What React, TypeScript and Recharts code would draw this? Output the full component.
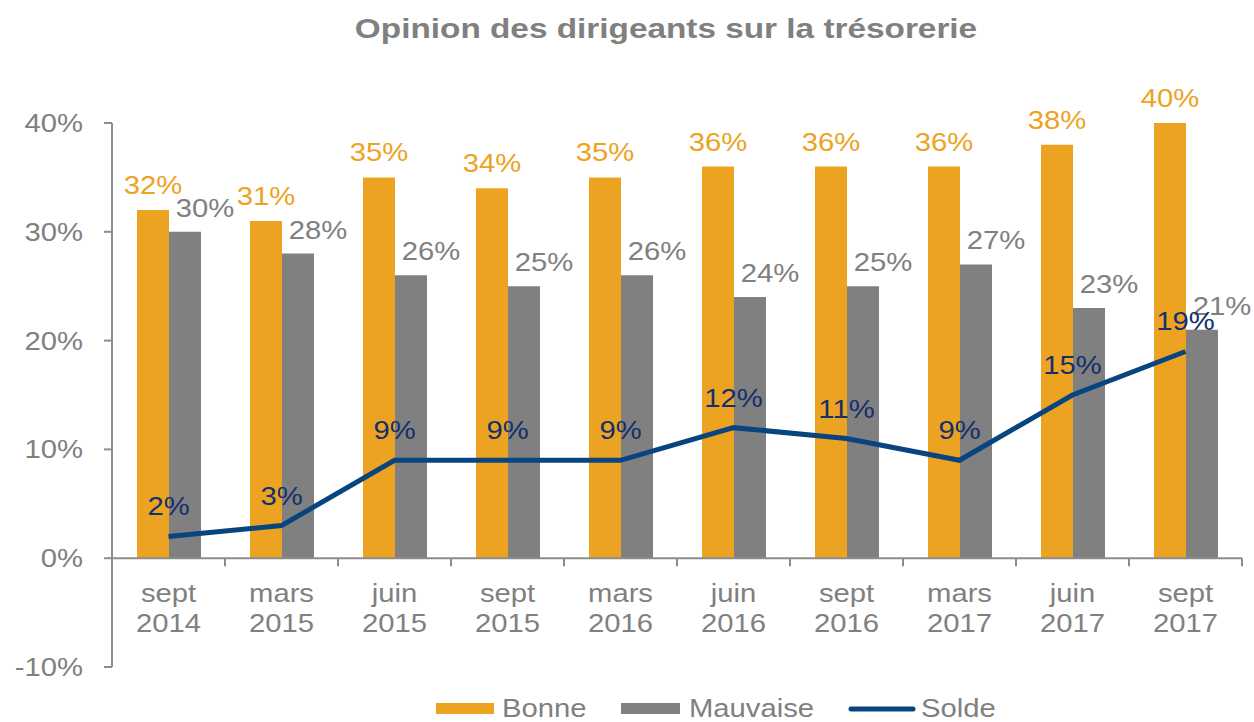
import React from 'react';
import {
  ComposedChart,
  Bar,
  Line,
  XAxis,
  YAxis,
  ReferenceLine,
  LabelList,
} from 'recharts';

const categories = [
  'sept 2014', 'mars 2015', 'juin 2015', 'sept 2015', 'mars 2016',
  'juin 2016', 'sept 2016', 'mars 2017', 'juin 2017', 'sept 2017',
];
const bonne = [32, 31, 35, 34, 35, 36, 36, 36, 38, 40];
const mauvaise = [30, 28, 26, 25, 26, 24, 25, 27, 23, 21];
const solde = [2, 3, 9, 9, 9, 12, 11, 9, 15, 19];
const yTicks = [-10, 0, 10, 20, 30, 40];

const W = 1254;
const H = 722;
const TOP = 123;
const BOTTOM = 55;
const LEFT = 112;
const RIGHT = 12;
const X_AXIS_H = 30;
const PLOT_H = H - TOP - BOTTOM;
const ZERO_Y = TOP + (PLOT_H * 40) / 50;
const BAND = (W - LEFT - RIGHT) / categories.length;

const ORANGE = '#EDA322';
const GREY = '#808080';
const AXIS = '#8C8C8C';
const NAVY_LINE = '#08457E';
const NAVY_TEXT = '#13306B';
const FONT = '"Liberation Sans", Arial, sans-serif';
const STRETCH = 1.17;

const data = categories.map((cat, i) => ({
  cat,
  bonne: bonne[i],
  mauvaise: mauvaise[i],
  solde: solde[i],
}));

// text in the source is drawn a bit wider than normal Arial
const WideText = ({ x, y, anchor = 'middle', fill = GREY, size = 25, weight = 'normal', children }: any) => (
  <text
    transform={`translate(${x},${y}) scale(${STRETCH},1)`}
    textAnchor={anchor}
    fill={fill}
    fontSize={size}
    fontWeight={weight}
    fontFamily={FONT}
  >
    {children}
  </text>
);

const YTick = ({ x, y, payload }: any) => (
  <WideText x={x} y={y + 9} anchor="end">{`${payload.value}%`}</WideText>
);

// category labels sit under the 0% line, ticks between categories
const XTick = ({ x, payload, index }: any) => {
  const [month, year] = String(payload.value).split(' ');
  return (
    <g>
      <line x1={x + BAND / 2} x2={x + BAND / 2} y1={ZERO_Y} y2={ZERO_Y + 8} stroke={AXIS} strokeWidth={2} />
      {index === 0 && (
        <line x1={x - BAND / 2} x2={x - BAND / 2} y1={ZERO_Y} y2={ZERO_Y + 8} stroke={AXIS} strokeWidth={2} />
      )}
      <WideText x={x} y={ZERO_Y + 44}>{month}</WideText>
      <WideText x={x} y={ZERO_Y + 74}>{year}</WideText>
    </g>
  );
};

const BonneLabel = ({ x, y, width, value }: any) => (
  <WideText x={x + width / 2} y={y - 16} fill={ORANGE}>{`${value}%`}</WideText>
);

const MauvaiseLabel = ({ x, y, width, value }: any) => (
  <WideText x={x + width / 2 + 20} y={y - 15} fill={GREY}>{`${value}%`}</WideText>
);

const SoldeLabel = ({ x, y, value }: any) => (
  <WideText x={x} y={y - 21} fill={NAVY_TEXT}>{`${value}%`}</WideText>
);

const App = () => (
  <div style={{ position: 'absolute', left: 0, top: 0, width: W, height: H, background: '#fff' }}>
    <ComposedChart
      width={W}
      height={H}
      data={data}
      margin={{ top: TOP, right: RIGHT, bottom: BOTTOM - X_AXIS_H, left: 0 }}
      barGap={0}
    >
      <XAxis
        dataKey="cat"
        height={X_AXIS_H}
        axisLine={false}
        tickLine={false}
        interval={0}
        tick={<XTick />}
      />
      <YAxis
        width={LEFT}
        domain={[-10, 40]}
        ticks={yTicks}
        interval={0}
        tickSize={8}
        tickMargin={21}
        axisLine={{ stroke: AXIS, strokeWidth: 2 }}
        tickLine={{ stroke: AXIS, strokeWidth: 2 }}
        tick={<YTick />}
      />
      <ReferenceLine y={0} stroke={AXIS} strokeWidth={2} />
      <Bar dataKey="bonne" name="Bonne" fill={ORANGE} barSize={32} isAnimationActive={false}>
        <LabelList dataKey="bonne" content={<BonneLabel />} />
      </Bar>
      <Bar dataKey="mauvaise" name="Mauvaise" fill={GREY} barSize={32} isAnimationActive={false}>
        <LabelList dataKey="mauvaise" content={<MauvaiseLabel />} />
      </Bar>
      <Line
        dataKey="solde"
        name="Solde"
        type="linear"
        stroke={NAVY_LINE}
        strokeWidth={5}
        dot={false}
        activeDot={false}
        isAnimationActive={false}
      >
        <LabelList dataKey="solde" content={<SoldeLabel />} />
      </Line>
    </ComposedChart>
    <svg width={W} height={H} style={{ position: 'absolute', left: 0, top: 0, pointerEvents: 'none' }}>
      <WideText x={666} y={38} size={28.5} weight="bold">Opinion des dirigeants sur la trésorerie</WideText>
      <rect x={436} y={703} width={58} height={11} fill={ORANGE} />
      <WideText x={502} y={717} anchor="start">Bonne</WideText>
      <rect x={621} y={703} width={59} height={11} fill={GREY} />
      <WideText x={689} y={717} anchor="start">Mauvaise</WideText>
      <line x1={851} x2={913} y1={709} y2={709} stroke={NAVY_LINE} strokeWidth={5} strokeLinecap="round" />
      <WideText x={921} y={717} anchor="start">Solde</WideText>
    </svg>
  </div>
);

export default App;
